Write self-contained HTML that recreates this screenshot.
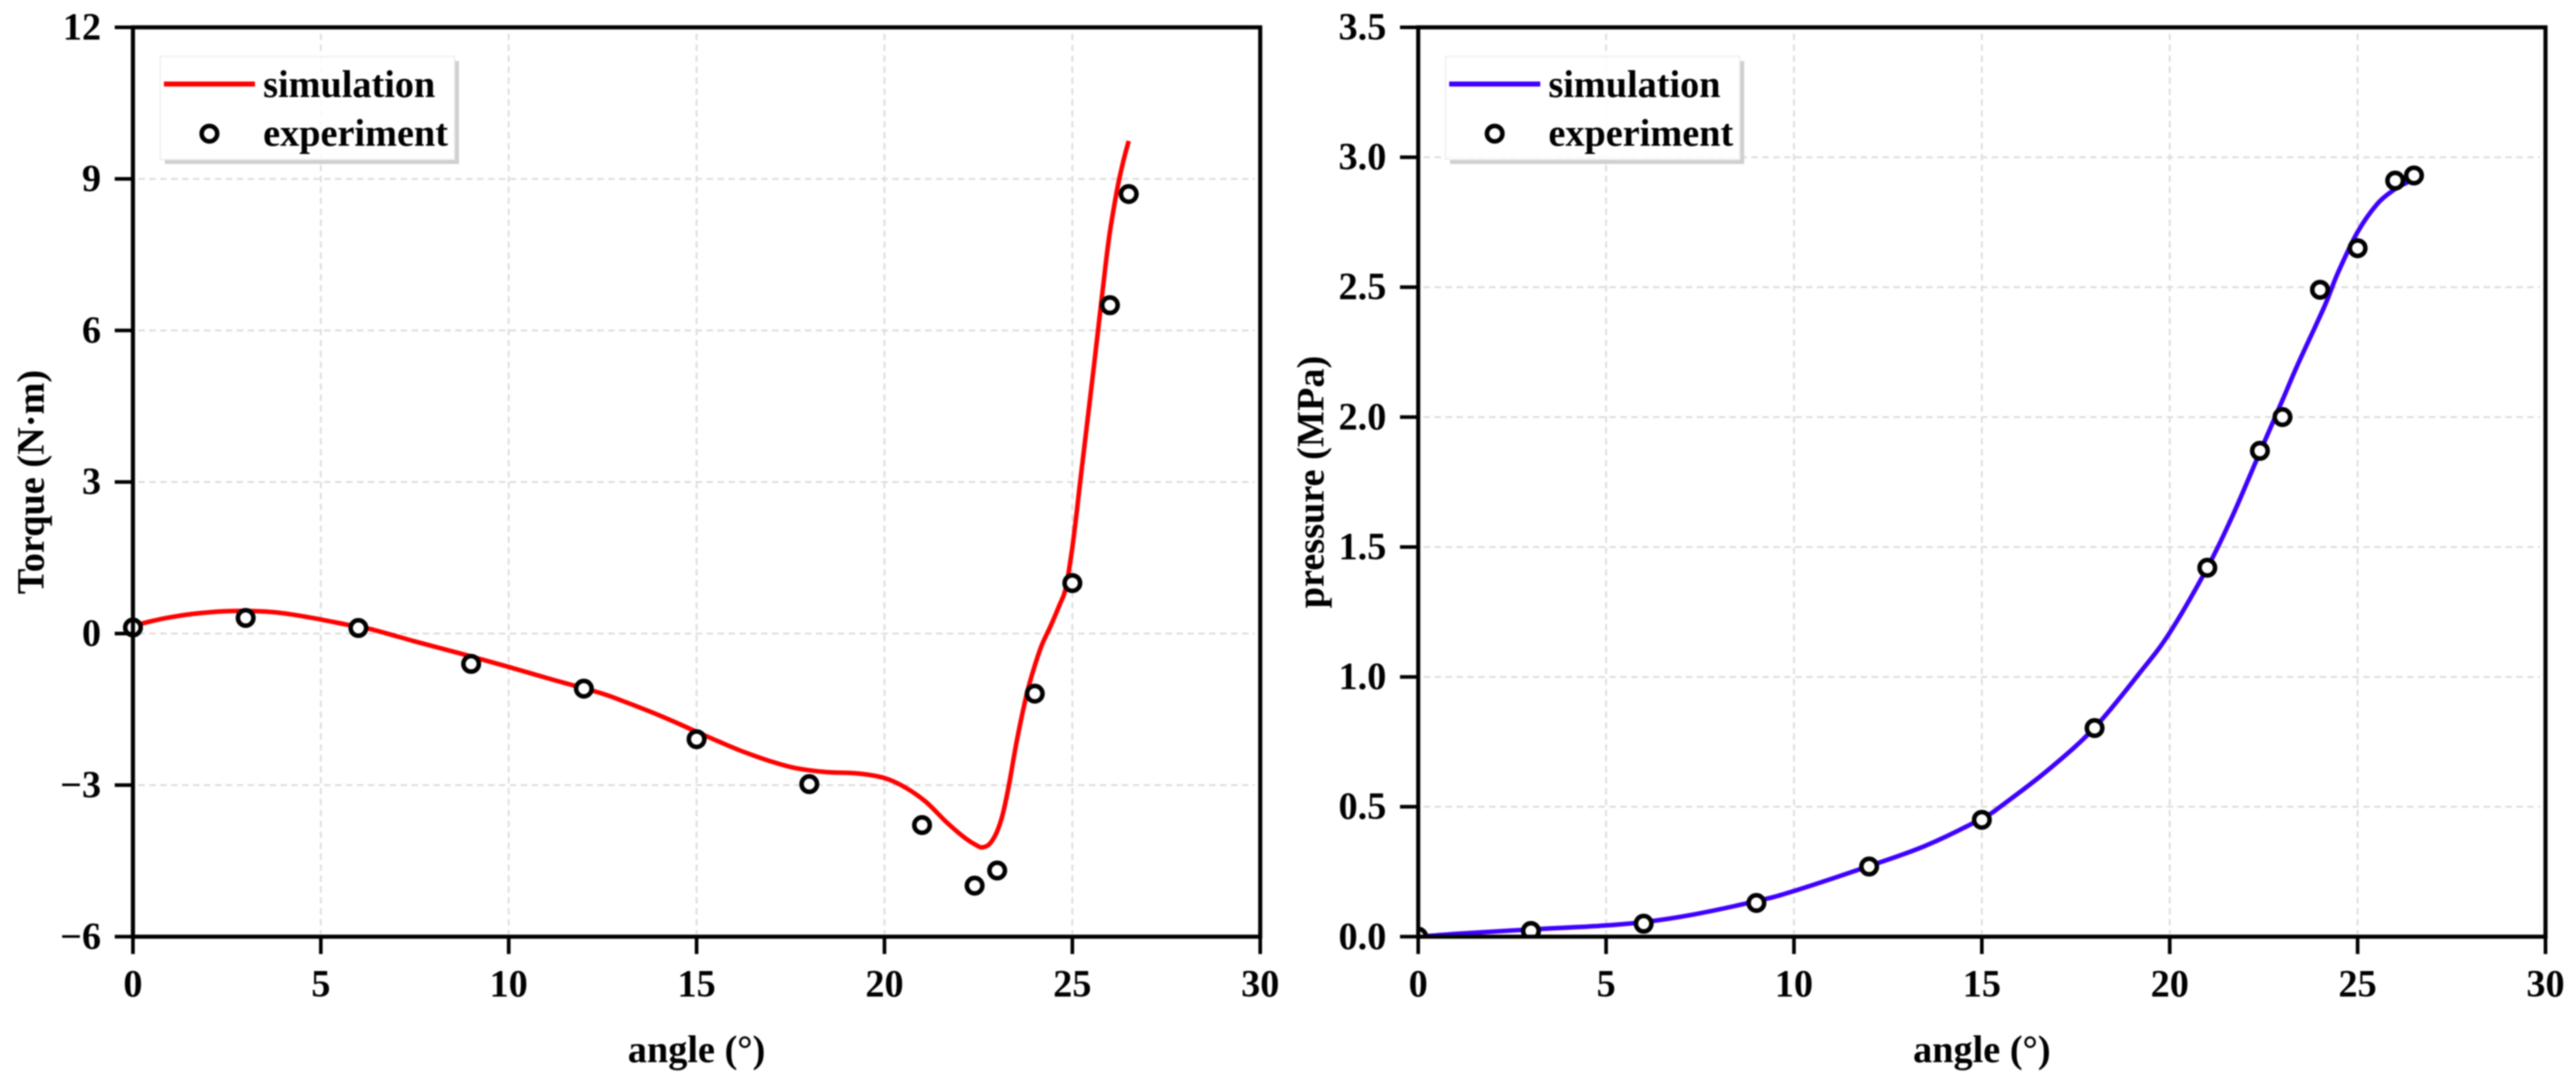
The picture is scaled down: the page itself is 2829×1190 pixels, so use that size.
<!DOCTYPE html>
<html lang="en">
<head>
<meta charset="utf-8">
<title>Torque and pressure vs angle</title>
<style>
html,body{margin:0;padding:0;background:#fff;width:2829px;height:1190px;overflow:hidden}
svg{display:block;filter:blur(0.8px)}
text{font-family:"Liberation Serif",serif;font-weight:bold;font-size:42px;fill:#000}
</style>
</head>
<body>
<svg id="figure" xmlns="http://www.w3.org/2000/svg" width="2829" height="1190" viewBox="0 0 2829 1190">
  <rect x="0" y="0" width="2829" height="1190" fill="#fff"/>
  <g id="torque-panel"></g>
  <g id="pressure-panel"></g>
</svg>
<script>
// Shared x axis
const xTickValues = [0, 5, 10, 15, 20, 25, 30];

// Torque panel data
const torqueTickValues = [-6, -3, 0, 3, 6, 9, 12];
const torqueTickLabels = ['\u22126', '\u22123', '0', '3', '6', '9', '12'];
const torqueCurveAngles = [0.18, 0.9, 1.71, 2.68, 3.73, 4.7, 5.67, 6.32, 7.53, 8.74, 9.95, 11.16, 12.41, 13.02, 13.75, 14.39, 14.99, 15.6, 16.25, 16.98, 17.62, 18.43, 19.3, 20, 20.54, 21.1, 21.66, 22.15, 22.47, 22.61, 22.79, 22.99, 23.15, 23.32, 23.52, 23.76, 23.92, 24.17, 24.41, 24.65, 24.82, 24.98, 25.1, 25.2, 25.58, 25.8, 25.98, 26.19, 26.35, 26.5];
const torqueCurveValues = [0.19, 0.31, 0.4, 0.447, 0.424, 0.32, 0.18, 0.09, -0.16, -0.4, -0.65, -0.91, -1.17, -1.33, -1.54, -1.74, -1.94, -2.14, -2.34, -2.53, -2.66, -2.74, -2.77, -2.86, -3.04, -3.33, -3.74, -4.05, -4.2, -4.23, -4.17, -3.93, -3.57, -2.97, -2.13, -1.28, -0.83, -0.26, 0.13, 0.55, 0.88, 1.6, 2.3, 2.95, 5.33, 6.75, 7.85, 8.78, 9.33, 9.75];
const torqueExperimentAngles = [0, 3, 6, 9, 12, 15, 18, 21, 22.4, 23, 24, 25, 26, 26.5];
const torqueExperimentValues = [0.12, 0.31, 0.11, -0.6, -1.09, -2.09, -2.98, -3.79, -4.99, -4.69, -1.19, 1.0, 6.5, 8.7];

// Pressure panel data
const pressureTickValues = [0, 0.5, 1, 1.5, 2, 2.5, 3, 3.5];
const pressureTickLabels = ['0.0', '0.5', '1.0', '1.5', '2.0', '2.5', '3.0', '3.5'];
const pressureCurveAngles = [0, 1.13, 2.98, 4.84, 5.99, 7.31, 9, 9.98, 12, 13.5, 15, 15.58, 16.79, 17.99, 19.21, 20, 21, 21.64, 22.12, 22.4, 23, 23.4, 24.13, 24.46, 24.99, 25.52, 25.97, 26.34, 26.5];
const pressureCurveValues = [0, 0.012, 0.028, 0.042, 0.056, 0.085, 0.137, 0.175, 0.272, 0.35, 0.455, 0.51, 0.645, 0.803, 1.017, 1.17, 1.42, 1.61, 1.77, 1.865, 2.065, 2.2, 2.43, 2.55, 2.71, 2.82, 2.875, 2.905, 2.92];
const pressureExperimentAngles = [0, 3, 6, 9, 12, 15, 18, 21, 22.4, 23, 24, 25, 26, 26.5];
const pressureExperimentValues = [0, 0.022, 0.05, 0.13, 0.27, 0.45, 0.803, 1.42, 1.87, 2.0, 2.49, 2.65, 2.91, 2.93];

const SVG_NS = 'http://www.w3.org/2000/svg';

function make(parent, tag, attrs, content) {
  const el = document.createElementNS(SVG_NS, tag);
  for (const key in attrs) el.setAttribute(key, attrs[key]);
  if (content !== undefined) el.textContent = content;
  parent.appendChild(el);
  return el;
}

function smoothPath(points) {
  let d = 'M' + points[0][0].toFixed(2) + ' ' + points[0][1].toFixed(2);
  for (let i = 0; i < points.length - 1; i++) {
    const p0 = points[Math.max(i - 1, 0)];
    const p1 = points[i];
    const p2 = points[i + 1];
    const p3 = points[Math.min(i + 2, points.length - 1)];
    const c1x = p1[0] + (p2[0] - p0[0]) / 6;
    const c1y = p1[1] + (p2[1] - p0[1]) / 6;
    const c2x = p2[0] - (p3[0] - p1[0]) / 6;
    const c2y = p2[1] - (p3[1] - p1[1]) / 6;
    d += 'C' + c1x.toFixed(2) + ' ' + c1y.toFixed(2) + ' ' + c2x.toFixed(2) + ' ' + c2y.toFixed(2) + ' ' + p2[0].toFixed(2) + ' ' + p2[1].toFixed(2);
  }
  return d;
}

function drawPanel(cfg) {
  const root = document.getElementById(cfg.id);
  const left = cfg.left, right = cfg.left + 1238, top = 30, bottom = 1028.3;
  const xMax = xTickValues[xTickValues.length - 1];
  const yMin = cfg.yTicks[0], yMax = cfg.yTicks[cfg.yTicks.length - 1];
  const xScale = v => left + (v - 0) / (xMax - 0) * (right - left);
  const yScale = v => bottom - (v - yMin) / (yMax - yMin) * (bottom - top);
  const gridStyle = { stroke: '#dcdcdc', 'stroke-width': 2, 'stroke-dasharray': '7 5', fill: 'none' };

  // Grid
  xTickValues.slice(1, -1).forEach(v => {
    const line = make(root, 'line', Object.assign({ x1: xScale(v), x2: xScale(v), y1: top + 7, y2: bottom - 3 }, gridStyle));
    
    
  });
  cfg.yTicks.slice(1, -1).forEach(v => {
    const line = make(root, 'line', Object.assign({ x1: left + 6, x2: right - 6, y1: yScale(v), y2: yScale(v) }, gridStyle));
    
    
  });

  // Legend frame (shadow + translucent box so the grid shows faintly)
  const lx = left + 30, ly = 62, lw = 323, lh = 113;
  const legend = make(root, 'g', {});
  
  
  const shadow = make(legend, 'path', {
    d: 'M' + (lx + lw) + ' ' + (ly + 5) + 'h5v' + (lh) + 'h-' + (lw) + 'v-5h' + (lw - 5) + 'z',
    fill: '#cfcfcf'
  });
  
  
  const box = make(legend, 'rect', {
    x: lx, y: ly, width: lw, height: lh,
    fill: '#fff', 'fill-opacity': 0.85, stroke: '#eeeeee', 'stroke-width': 1.5
  });
  
  
  const legendLine = make(legend, 'line', {
    x1: left + 34, x2: left + 134, y1: 92.3, y2: 92.3, stroke: cfg.color, 'stroke-width': 5.5
  });
  
  
  const legendSimText = make(legend, 'text', { x: left + 143, y: 106.5 }, 'simulation');
  
  
  const legendMarker = make(legend, 'circle', {
    cx: left + 84, cy: 146.7, r: 8.5, fill: '#fff', stroke: '#000', 'stroke-width': 5
  });
  
  
  const legendExpText = make(legend, 'text', { x: left + 143, y: 160 }, 'experiment');
  
  

  // Simulation curve
  const pts = cfg.curveX.map((a, i) => [xScale(a), yScale(cfg.curveY[i])]);
  const curve = make(root, 'path', {
    d: smoothPath(pts), fill: 'none', stroke: cfg.color, 'stroke-width': 5, 'stroke-linejoin': 'round'
  });
  
  

  // Experiment markers (the pressure panel clips its origin point to the plot area)
  const markerGroup = make(root, 'g', {});
  
  
  if (cfg.clipMarkers) {
    const clip = make(root, 'clipPath', { id: cfg.id + '-clip' });
    make(clip, 'rect', { x: left, y: top, width: right - left, height: bottom - top });
    markerGroup.setAttribute('clip-path', 'url(#' + cfg.id + '-clip)');
  }
  cfg.expX.forEach((a, i) => {
    const dot = make(markerGroup, 'circle', {
      cx: xScale(a), cy: yScale(cfg.expY[i]), r: 8.5, fill: '#fff', stroke: '#000', 'stroke-width': 5
    });
    
    
  });

  // Axis frame
  const frame = make(root, 'rect', {
    x: left, y: top, width: right - left, height: bottom - top, fill: 'none', stroke: '#000', 'stroke-width': 4.5
  });
  
  

  // X ticks and labels
  xTickValues.forEach(v => {
    const tick = make(root, 'line', { x1: xScale(v), x2: xScale(v), y1: bottom, y2: bottom + 19, stroke: '#000', 'stroke-width': 4 });
    
    
    const label = make(root, 'text', { x: xScale(v), y: 1094, 'text-anchor': 'middle' }, String(v));
    
    
  });

  // Y ticks and labels
  cfg.yTicks.forEach((v, i) => {
    const tick = make(root, 'line', { x1: left - 20, x2: left, y1: yScale(v), y2: yScale(v), stroke: '#000', 'stroke-width': 4 });
    
    
    const label = make(root, 'text', { x: left - 35, y: yScale(v) + 13.5, 'text-anchor': 'end' }, cfg.yLabels[i]);
    
    
  });

  // Axis titles
  const xTitle = make(root, 'text', { x: (left + right) / 2, y: 1166, 'text-anchor': 'middle' }, 'angle (\u00B0)');
  
  
  const tx = left - cfg.titleOffset, ty = (top + bottom) / 2;
  const yTitle = make(root, 'text', { x: tx, y: ty, 'text-anchor': 'middle', transform: 'rotate(-90 ' + tx + ' ' + ty + ')' }, cfg.yTitle);
  
  
}

drawPanel({
  id: 'torque-panel', left: 146, color: '#ff0000', titleOffset: 98, clipMarkers: false,
  yTicks: torqueTickValues, yLabels: torqueTickLabels, yTitle: 'Torque (N\u00B7m)',
  curveX: torqueCurveAngles, curveY: torqueCurveValues,
  expX: torqueExperimentAngles, expY: torqueExperimentValues
});
drawPanel({
  id: 'pressure-panel', left: 1557.5, color: '#3f00ff', titleOffset: 104, clipMarkers: true,
  yTicks: pressureTickValues, yLabels: pressureTickLabels, yTitle: 'pressure (MPa)',
  curveX: pressureCurveAngles, curveY: pressureCurveValues,
  expX: pressureExperimentAngles, expY: pressureExperimentValues
});
</script>
</body>
</html>
